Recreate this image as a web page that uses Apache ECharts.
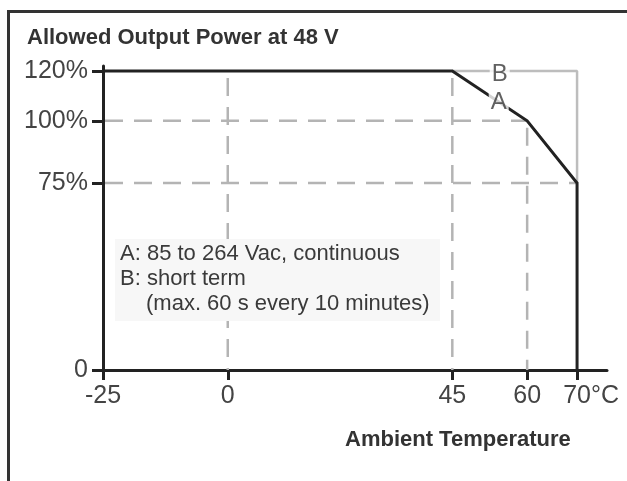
<!DOCTYPE html>
<html>
<head>
<meta charset="utf-8">
<script src="https://cdn.jsdelivr.net/npm/echarts@6/dist/echarts.min.js"></script>
<style>
  html, body { margin: 0; padding: 0; background: #fff; }
  #chart { width: 627px; height: 481px; }
</style>
</head>
<body>
<div id="chart"></div>
<script>
// curve A: continuous derating
var tempA = [-25, 45, 60, 70, 70];
var powerA = [120, 120, 100, 75, 0];
// curve B: short term
var tempB = [45, 70, 70];
var powerB = [120, 120, 75];

var xTicks = [-25, 0, 45, 60, 70];
var yTicks = [0, 75, 100, 120];

// dashed helper lines
var vGuideX = [0, 45, 60];
var vGuideTop = [120, 120, 100];
var hGuideY = [100, 75];
var hGuideEnd = [60, 70];

// curve name labels
var curveNames = ['A', 'B'];
var curveLabelX = [54.3, 54.5];
var curveLabelY = [107.5, 118.5];

var noteLines = [
  'A: 85 to 264 Vac, continuous',
  'B: short term',
  '(max. 60 s every 10 minutes)'
];

var FONT = "'Liberation Sans', Arial, sans-serif";
var axisColor = '#222';
var guideColor = '#b4b4b4';

var chart = echarts.init(document.getElementById('chart'), null, { renderer: 'canvas' });

var series = [];

vGuideX.forEach(function (x, i) {
  series.push({
    type: 'line', z: 1, silent: true, symbol: 'none', animation: false,
    data: [[x, vGuideTop[i]], [x, 0]],
    lineStyle: { color: guideColor, width: 2.5, type: [18, 11], dashOffset: 22 }
  });
});
hGuideY.forEach(function (y, i) {
  series.push({
    type: 'line', z: 1, silent: true, symbol: 'none', animation: false,
    data: [[-25, y], [hGuideEnd[i], y]],
    lineStyle: { color: guideColor, width: 2.5, type: [18, 11], dashOffset: -2 }
  });
});

series.push({
  type: 'line', z: 4, symbol: 'none', animation: false,
  data: tempB.map(function (t, i) { return [t, powerB[i]]; }),
  lineStyle: { color: '#bdbdbd', width: 2.5 }
});
series.push({
  type: 'line', z: 5, symbol: 'none', animation: false,
  data: tempA.map(function (t, i) { return [t, powerA[i]]; }),
  lineStyle: { color: axisColor, width: 3, join: 'miter' }
});
series.push({
  type: 'scatter', z: 10, symbolSize: 0, animation: false,
  data: curveNames.map(function (n, i) {
    return { name: n, value: [curveLabelX[i], curveLabelY[i]] };
  }),
  label: {
    show: true, position: 'inside', formatter: '{b}',
    fontFamily: FONT, fontSize: 24, color: '#3a3a3a',
    backgroundColor: '#fff', padding: [0, 2]
  }
});

var option = {
  backgroundColor: '#fff',
  animation: false,
  grid: { left: 103, right: 20, top: 66, bottom: 111 },
  xAxis: {
    type: 'value', min: -25, max: 76,
    splitLine: { show: false },
    axisLine: { onZero: false, lineStyle: { color: axisColor, width: 3 } },
    axisTick: { customValues: xTicks, length: 10, lineStyle: { color: axisColor, width: 3 } },
    axisLabel: {
      customValues: xTicks, margin: 14,
      fontFamily: FONT, fontSize: 25, color: '#444',
      formatter: function (v) { return v === 70 ? '{pad|}70°C' : String(v); },
      rich: { pad: { width: 28, height: 1 } }
    }
  },
  yAxis: {
    type: 'value', min: 0, max: 122,
    splitLine: { show: false },
    axisLine: { onZero: false, lineStyle: { color: axisColor, width: 3 } },
    axisTick: { customValues: yTicks, length: 11, lineStyle: { color: axisColor, width: 3 } },
    axisLabel: {
      customValues: yTicks, margin: 15,
      fontFamily: FONT, fontSize: 25, color: '#444',
      formatter: function (v) { return v === 0 ? '0' : v + '%'; }
    }
  },
  graphic: [
    {
      type: 'rect', z: 0, silent: true,
      shape: { x: 8.5, y: 11.5, width: 900, height: 900 },
      style: { fill: 'none', stroke: '#333', lineWidth: 3 }
    },
    {
      type: 'text', z: 50, x: 27, y: 38,
      style: { text: 'Allowed Output Power at 48 V', font: 'bold 22px ' + FONT, fill: '#333', textVerticalAlign: 'middle' }
    },
    {
      type: 'text', z: 50, x: 345, y: 440,
      style: { text: 'Ambient Temperature', font: 'bold 22px ' + FONT, fill: '#333', textVerticalAlign: 'middle' }
    },
    {
      type: 'rect', z: 100, silent: true,
      shape: { x: 115, y: 239, width: 325, height: 82 },
      style: { fill: '#f7f7f7' }
    },
    {
      type: 'text', z: 101, x: 120, y: 254,
      style: { text: noteLines[0], font: '22px ' + FONT, fill: '#3a3a3a', textVerticalAlign: 'middle' }
    },
    {
      type: 'text', z: 101, x: 120, y: 279,
      style: { text: noteLines[1], font: '22px ' + FONT, fill: '#3a3a3a', textVerticalAlign: 'middle' }
    },
    {
      type: 'text', z: 101, x: 146, y: 304,
      style: { text: noteLines[2], font: '22px ' + FONT, fill: '#3a3a3a', textVerticalAlign: 'middle' }
    }
  ],
  series: series
};

chart.setOption(option);
</script>
</body>
</html>
